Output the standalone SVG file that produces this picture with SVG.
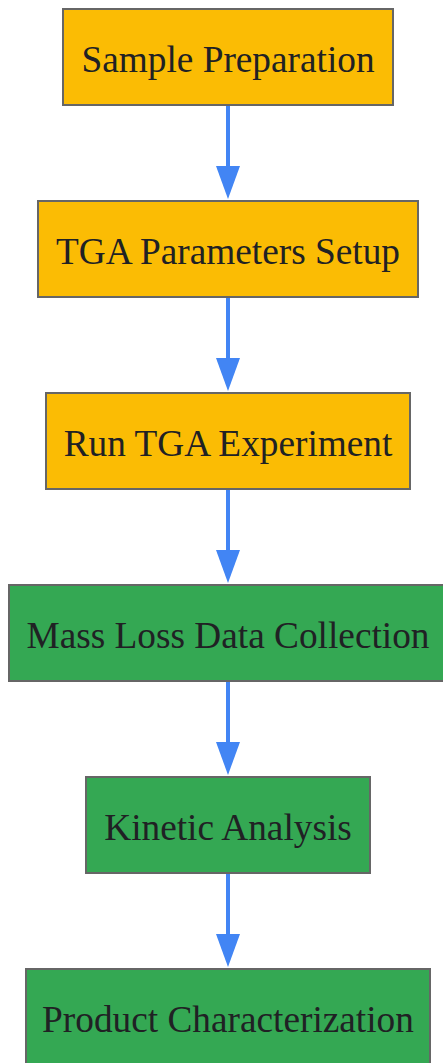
<svg xmlns="http://www.w3.org/2000/svg" width="443" height="1063" viewBox="0 0 443 1063">
<defs>
<style>
.box{stroke:#666666;stroke-width:2}
.y{fill:#FBBC04}
.g{fill:#34A853}
.t{font-family:"Liberation Serif","Times New Roman",serif;font-size:37.3px;fill:#202124;text-anchor:middle}
.c{stroke:#4285F4;stroke-width:4;fill:none;marker-end:url(#ah)}
</style>
<marker id="ah" markerUnits="userSpaceOnUse" markerWidth="33" markerHeight="24" refX="4" refY="12" orient="auto" viewBox="0 0 33 24">
<path d="M0,0 L33,12 L0,24 Z" fill="#4285F4"/>
</marker>
</defs>
<rect width="443" height="1063" fill="#ffffff"/>
<g id="connectors">
<line class="c" x1="228" y1="106" x2="228" y2="170"/>
<line class="c" x1="228" y1="298" x2="228" y2="362"/>
<line class="c" x1="228" y1="490" x2="228" y2="554"/>
<line class="c" x1="228" y1="682" x2="228" y2="746"/>
<line class="c" x1="228" y1="874" x2="228" y2="938"/>
</g>
<g id="n1"><rect class="box y" x="63" y="9" width="330" height="96"/><text class="t" x="228" y="72">Sample Preparation</text></g>
<g id="n2"><rect class="box y" x="38" y="201" width="380" height="96"/><text class="t" x="228" y="264">TGA Parameters Setup</text></g>
<g id="n3"><rect class="box y" x="46" y="393" width="364" height="96"/><text class="t" x="228" y="456">Run TGA Experiment</text></g>
<g id="n4"><rect class="box g" x="9" y="585" width="440" height="96"/><text class="t" x="228" y="648">Mass Loss Data Collection</text></g>
<g id="n5"><rect class="box g" x="86" y="777" width="284" height="96"/><text class="t" x="228" y="840">Kinetic Analysis</text></g>
<g id="n6"><rect class="box g" x="26" y="969" width="404" height="96"/><text class="t" x="228" y="1032">Product Characterization</text></g>
</svg>
